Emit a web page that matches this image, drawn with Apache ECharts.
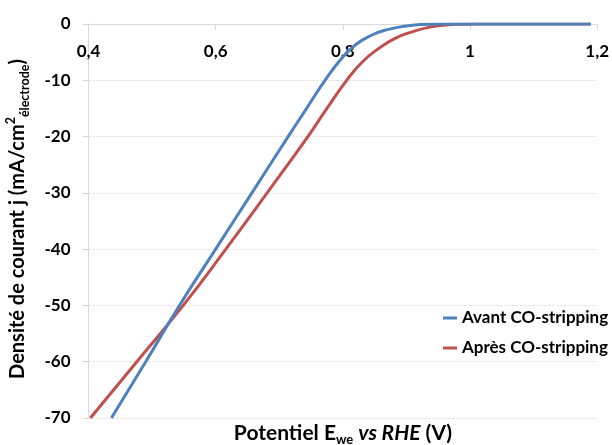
<!DOCTYPE html>
<html>
<head>
<meta charset="utf-8">
<script src="https://cdn.jsdelivr.net/npm/echarts@6/dist/echarts.min.js"></script>
<style>
html,body{margin:0;padding:0;background:#fff;}
#chart{width:612px;height:445px;}
</style>
</head>
<body>
<div id="chart"></div>
<script>
// ---- data ----
var seriesNames = ['Avant CO-stripping', 'Après CO-stripping'];
var xTickLabels = ['0,4', '0,6', '0,8', '1', '1,2'];
var yTickLabels = ['-70', '-60', '-50', '-40', '-30', '-20', '-10', '0'];

var avantPotential = [0.436, 0.490, 0.543, 0.600, 0.657, 0.714, 0.743, 0.772, 0.799, 0.821, 0.845, 0.870, 0.897, 0.922, 0.951, 1.0, 1.1, 1.19];
var avantCurrent   = [-70, -60, -50, -40, -30, -20, -15, -10, -6, -3.6, -2, -1, -0.4, -0.1, 0, 0, 0, 0];

var apresPotential = [0.403, 0.476, 0.549, 0.616, 0.681, 0.745, 0.775, 0.806, 0.831, 0.857, 0.883, 0.909, 0.935, 0.962, 0.988, 1.01, 1.1, 1.19];
var apresCurrent   = [-70, -60, -50, -40, -30, -20, -15, -10, -6.7, -4.3, -2.5, -1.4, -0.6, -0.18, -0.04, 0, 0, 0];

function zip(xs, ys) { return xs.map(function (x, i) { return [x, ys[i]]; }); }

var FONT = 'Lato';
var chart = echarts.init(document.getElementById('chart'), null, {renderer: 'canvas'});
var option = {
  animation: false,
  backgroundColor: '#ffffff',
  grid: {left: 88.5, right: 14, top: 24, bottom: 27, containLabel: false},
  xAxis: {
    type: 'value', position: 'top', min: 0.4, max: 1.2, interval: 0.2,
    axisLine: {show: true, onZero: false, lineStyle: {color: '#d9d9d9', width: 1}},
    axisTick: {show: true, inside: true, length: 6, lineStyle: {color: '#d9d9d9'}},
    axisLabel: {inside: true, margin: 19, fontFamily: FONT, fontWeight: 'bold', fontSize: 17, color: '#000',
      formatter: function (v, i) { return xTickLabels[i]; }},
    splitLine: {show: false}
  },
  yAxis: {
    type: 'value', min: -70, max: 0, interval: 10,
    axisLine: {show: true, onZero: false, lineStyle: {color: '#d9d9d9', width: 1}},
    axisTick: {show: true, length: 6, lineStyle: {color: '#d9d9d9'}},
    axisLabel: {margin: 18, fontFamily: FONT, fontWeight: 'bold', fontSize: 17, color: '#000',
      formatter: function (v, i) { return yTickLabels[i]; }},
    splitLine: {show: true, lineStyle: {color: '#d9d9d9', type: [2, 2], width: 1}}
  },
  legend: {
    orient: 'vertical', left: 438, top: 303, itemGap: 10, itemWidth: 14, itemHeight: 3,
    icon: 'rect',
    textStyle: {fontFamily: FONT, fontWeight: 'bold', fontSize: 17, color: '#000', lineHeight: 20},
    data: seriesNames
  },
  series: [
    {name: seriesNames[0], type: 'line', data: zip(avantPotential, avantCurrent), smooth: 0.5,
      symbol: 'none', lineStyle: {color: '#4F81BD', width: 3}, itemStyle: {color: '#4F81BD'}, z: 3},
    {name: seriesNames[1], type: 'line', data: zip(apresPotential, apresCurrent), smooth: 0.5,
      symbol: 'none', lineStyle: {color: '#C0504D', width: 3}, itemStyle: {color: '#C0504D'}, z: 2}
  ],
  graphic: [
    {type: 'text', x: 343, y: 433, style: {
      text: '{b|Potentiel E}{s|we}{b| }{i|vs RHE}{b| (V)}',
      align: 'center', verticalAlign: 'middle',
      rich: {
        b: {fontFamily: FONT, fontWeight: 'bold', fontSize: 21, lineHeight: 26, verticalAlign: 'middle', fill: '#000'},
        i: {fontFamily: FONT, fontWeight: 'bold', fontStyle: 'italic', fontSize: 21, lineHeight: 26, verticalAlign: 'middle', fill: '#000'},
        s: {fontFamily: FONT, fontWeight: 'bold', fontSize: 13, lineHeight: 26, verticalAlign: 'bottom', fill: '#000'}
      }
    }},
    {type: 'text', x: 18, y: 219, rotation: Math.PI / 2, style: {
      text: '{b|Densité de courant j (mA/cm}{p|2}{s|électrode}{b|)}',
      align: 'center', verticalAlign: 'middle',
      rich: {
        b: {fontFamily: FONT, fontWeight: 'bold', fontSize: 20, lineHeight: 27, verticalAlign: 'middle', fill: '#000'},
        p: {fontFamily: FONT, fontWeight: 'bold', fontSize: 12.5, lineHeight: 27, verticalAlign: 'top', fill: '#000'},
        s: {fontFamily: FONT, fontWeight: 'bold', fontSize: 12.5, lineHeight: 27, verticalAlign: 'bottom', fill: '#000'}
      }
    }}
  ]
};
chart.setOption(option);
</script>
</body>
</html>
